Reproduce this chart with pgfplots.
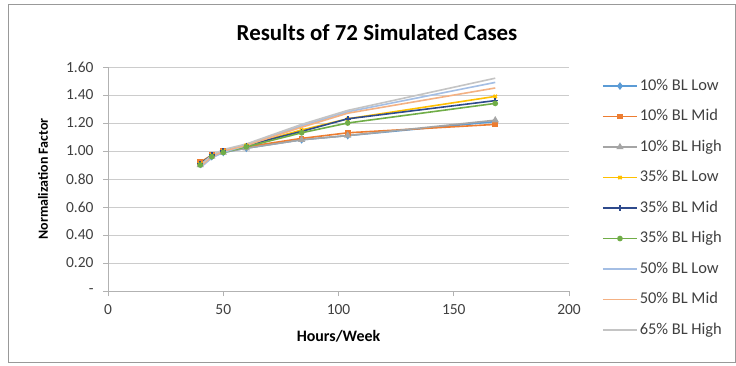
\documentclass[border=0pt]{standalone}
\usepackage{pgfplots}
\pgfplotsset{compat=1.18}
\usepackage{fontspec}
\setmainfont{Carlito}
\definecolor{cA}{HTML}{5B9BD5}
\definecolor{cB}{HTML}{ED7D31}
\definecolor{cC}{HTML}{A5A5A5}
\definecolor{cD}{HTML}{FFC000}
\definecolor{cE}{HTML}{2E4A8C}
\definecolor{cF}{HTML}{70AD47}
\definecolor{cG}{HTML}{A4BEE4}
\definecolor{cH}{HTML}{F4B183}
\definecolor{cI}{HTML}{C4C4C4}
\definecolor{txt}{HTML}{404040}
\begin{document}
\begin{tikzpicture}[x=1bp,y=1bp]
\path[fill=white] (0,0) rectangle (736,365);
\draw[color=black!40, line width=0.8bp] (8,3) rectangle (735.5,361);
\node[font=\fontsize{23}{26}\selectfont\bfseries, text=black] at (377,332) {Results of 72 Simulated Cases};
\begin{axis}[
  at={(108bp,74bp)}, anchor=south west,
  scale only axis, width=461bp, height=224bp,
  xmin=0, xmax=200, ymin=0, ymax=1.6,
  axis x line=bottom, axis y line=left,
  axis line style={color=black!30, -},
  xtick={0,50,100,150,200}, xticklabels={0,50,100,150,200},
  ytick={0,0.2,0.4,0.6,0.8,1.0,1.2,1.4,1.6},
  yticklabels={{-},0.20,0.40,0.60,0.80,1.00,1.20,1.40,1.60},
  tick style={color=black!30, line width=0.6bp},
  major tick length=5bp,
  tick align=outside,
  ymajorgrids, grid style={color=black!20, line width=0.8bp},
  ticklabel style={font=\fontsize{15.5}{18}\selectfont, text=txt},
  xticklabel style={yshift=-5bp},
  yticklabel style={xshift=-6bp},
  xlabel={Hours/Week}, ylabel={Normalization Factor},
  label style={text=black},
  xlabel style={font=\fontsize{16}{19}\selectfont\bfseries, at={(0.5,-0.2)}, anchor=center},
  ylabel style={font=\fontsize{14}{17}\selectfont\bfseries, at={(-0.141,0.5)}, anchor=center},
  legend style={draw=none, fill=none, at={(1.065,0.965)}, anchor=north west,
    font=\fontsize{16.5}{19}\selectfont, text=txt, row sep=12.5bp,
    nodes={text height=11bp, text depth=3bp, inner sep=2bp}},
  legend cell align=left,
  legend image code/.code={\draw[mark repeat=2,mark phase=2,#1] plot coordinates {(0bp,0bp)(17bp,0bp)(34bp,0bp)};},
  every axis plot/.append style={line width=1.6bp},
  clip=false,
]
\addplot[color=cA, mark=diamond*, mark size=2.6bp] coordinates {(40,0.91)(45,0.96)(50,0.99)(60,1.02)(84,1.08)(104,1.11)(168,1.21)};
\addlegendentry{10\% BL Low}
\addplot[color=cB, mark=square*, mark size=2bp] coordinates {(40,0.92)(45,0.97)(50,1.00)(60,1.03)(84,1.09)(104,1.13)(168,1.19)};
\addlegendentry{10\% BL Mid}
\addplot[color=cC, mark=triangle*, mark size=2.6bp] coordinates {(40,0.90)(45,0.96)(50,0.99)(60,1.02)(84,1.08)(104,1.11)(168,1.22)};
\addlegendentry{10\% BL High}
\addplot[color=cD, mark=x, mark size=2.3bp] coordinates {(40,0.91)(45,0.97)(50,1.00)(60,1.04)(84,1.15)(104,1.23)(168,1.39)};
\addlegendentry{35\% BL Low}
\addplot[color=cE, mark=+, mark size=2.8bp] coordinates {(40,0.91)(45,0.97)(50,1.00)(60,1.04)(84,1.14)(104,1.23)(168,1.36)};
\addlegendentry{35\% BL Mid}
\addplot[color=cF, mark=*, mark size=2bp] coordinates {(40,0.90)(45,0.96)(50,0.99)(60,1.03)(84,1.13)(104,1.20)(168,1.34)};
\addlegendentry{35\% BL High}
\addplot[color=cG, mark=none] coordinates {(40,0.88)(45,0.95)(50,0.99)(60,1.04)(84,1.18)(104,1.28)(168,1.49)};
\addlegendentry{50\% BL Low}
\addplot[color=cH, mark=none] coordinates {(40,0.89)(45,0.96)(50,1.00)(60,1.04)(84,1.17)(104,1.27)(168,1.45)};
\addlegendentry{50\% BL Mid}
\addplot[color=cI, mark=none] coordinates {(40,0.90)(45,0.97)(50,1.01)(60,1.05)(84,1.19)(104,1.29)(168,1.52)};
\addlegendentry{65\% BL High}
\end{axis}
\end{tikzpicture}
\end{document}
